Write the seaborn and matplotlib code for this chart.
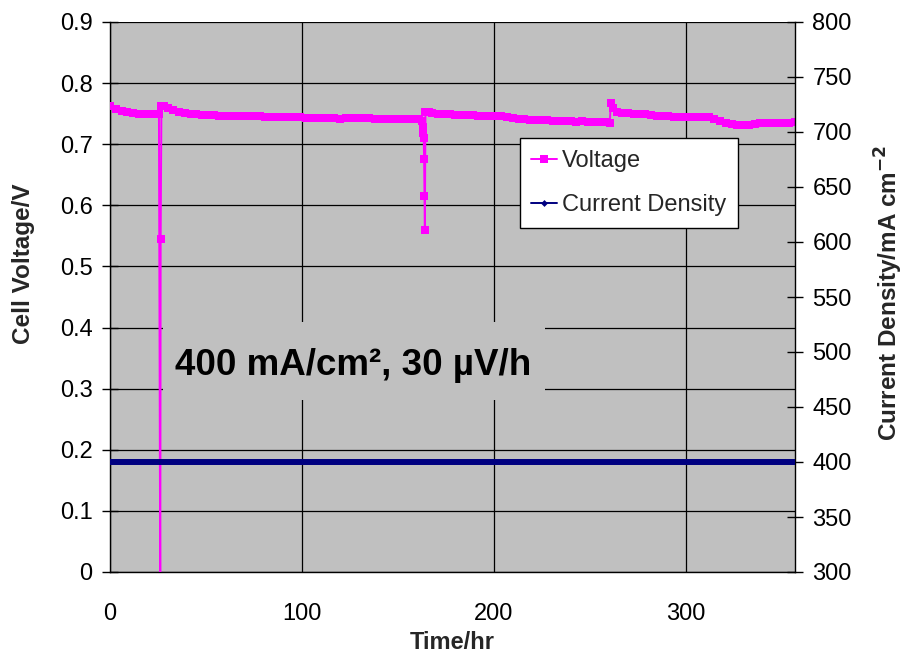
import matplotlib
matplotlib.use("Agg")
import matplotlib.pyplot as plt
from matplotlib.lines import Line2D
from matplotlib.patches import Rectangle
from matplotlib import font_manager
import seaborn as sns
import pandas as pd

# ---------------- data ----------------
time_hr = [0, 3, 6, 9, 12, 15, 18, 21, 24, 25.5,
           26.2, 26.4, 26.8, 28, 30, 33, 36, 39, 42, 45, 48, 51, 54, 57, 60,
           63, 66, 69, 72, 75, 78, 81, 84, 87, 90, 93, 96, 99, 102, 105,
           108, 111, 114, 117, 120, 123, 126, 129, 132, 135, 138, 141, 144,
           147, 150, 153, 156, 159, 161, 162.5, 163, 163.3, 163.5, 163.7,
           163.9, 164.1, 164.4, 166, 168, 171, 174, 177, 180, 183, 186, 189,
           192, 195, 198, 201, 204, 207, 210, 213, 216, 219, 222, 225, 228,
           231, 234, 237, 240, 243, 246, 249, 252, 255, 258, 260.5, 261,
           262, 264, 267, 270, 273, 276, 279, 282, 285, 288, 291, 294, 297,
           300, 303, 306, 309, 312, 315, 318, 321, 324, 327, 330, 333, 336,
           339, 342, 345, 348, 351, 354, 357]
voltage = [0.763, 0.758, 0.755, 0.753, 0.751, 0.750, 0.749, 0.749, 0.750, 0.750,
           -0.05, 0.545, 0.762, 0.763, 0.760, 0.756, 0.753, 0.751, 0.750, 0.749,
           0.748, 0.748, 0.748, 0.747, 0.747,
           0.746, 0.746, 0.746, 0.746, 0.746, 0.746, 0.745, 0.745, 0.745, 0.744,
           0.744, 0.744, 0.744, 0.743, 0.743,
           0.743, 0.743, 0.743, 0.743, 0.742, 0.743, 0.743, 0.743, 0.743, 0.743,
           0.742, 0.742, 0.742,
           0.741, 0.741, 0.741, 0.742, 0.742, 0.741, 0.738, 0.728, 0.718, 0.711,
           0.676,
           0.615, 0.560, 0.752, 0.753, 0.751, 0.749, 0.750, 0.749, 0.748, 0.748,
           0.748, 0.748,
           0.747, 0.747, 0.747, 0.747, 0.746, 0.745, 0.743, 0.742, 0.742, 0.740,
           0.739, 0.739, 0.739,
           0.738, 0.738, 0.738, 0.738, 0.737, 0.738, 0.737, 0.737, 0.737, 0.736,
           0.735, 0.768,
           0.760, 0.752, 0.751, 0.751, 0.750, 0.749, 0.749, 0.748, 0.747, 0.746,
           0.746, 0.745, 0.745,
           0.744, 0.744, 0.745, 0.745, 0.744, 0.741, 0.738, 0.735, 0.733, 0.732,
           0.732, 0.732, 0.733,
           0.734, 0.734, 0.734, 0.734, 0.734, 0.735, 0.736]

current_time_hr = [0, 50, 100, 150, 200, 250, 300, 357]
current_density = [400, 400, 400, 400, 400, 400, 400, 400]

x_ticks = [0, 100, 200, 300]
left_ticks = [0, 0.1, 0.2, 0.3, 0.4, 0.5, 0.6, 0.7, 0.8, 0.9]
right_ticks = [300, 350, 400, 450, 500, 550, 600, 650, 700, 750, 800]

annotation = "400 mA/cm\u00b2, 30 \u00b5V/h"

# ---------------- style ----------------
sns.set_style("white")
names = {f.name for f in font_manager.fontManager.ttflist}
narrow = "Liberation Sans Narrow" if "Liberation Sans Narrow" in names else "Liberation Sans"
plt.rcParams["font.family"] = ["Liberation Sans", "DejaVu Sans"]

MAGENTA = "#FF00FF"
NAVY = "#000080"
GRAY = "#C0C0C0"

fig = plt.figure(figsize=(9.06, 6.55), dpi=100)
ax = fig.add_axes([110 / 906, 83 / 655, 685 / 906, 550 / 655])
ax.set_facecolor(GRAY)

df_v = pd.DataFrame({"t": time_hr, "v": voltage})
sns.lineplot(data=df_v, x="t", y="v", ax=ax, sort=False, estimator=None,
             color=MAGENTA, lw=1.4, marker="s", markersize=5.3,
             markeredgewidth=0, zorder=3)

ax.set_xlim(0, 357)
ax.set_ylim(0, 0.9)
ax.set_xticks(x_ticks)
ax.set_yticks(left_ticks)
ax.set_yticklabels(["0" if v == 0 else f"{v:.1f}" for v in left_ticks])
ax.set_axisbelow(True)
ax.grid(True, color="black", lw=0.9)

# background box behind annotation
ax.add_patch(Rectangle((27.6, 0.2815), 199.0, 0.1275, facecolor=GRAY,
                       edgecolor="none", zorder=1))
ax.text(126.6, 0.3224, annotation, ha="center", va="baseline",
        fontsize=26.5, fontweight="bold", color="black", zorder=4)

for s in ["top", "right"]:
    ax.spines[s].set_visible(False)
for s in ["left", "bottom"]:
    ax.spines[s].set_color("black")
    ax.spines[s].set_linewidth(1.0)

ax.tick_params(axis="y", direction="inout", length=11, width=1, pad=7,
               labelsize=17, colors="black")
ax.tick_params(axis="x", direction="inout", length=11, width=1, pad=17,
               labelsize=17, colors="black")
for lab in ax.get_xticklabels() + ax.get_yticklabels():
    lab.set_family(narrow)

ax.set_xlabel("Time/hr", fontsize=17, fontweight="bold")
ax.xaxis.set_label_coords(0.5, -0.108)
ax.set_ylabel("Cell Voltage/V", fontsize=17.5, fontweight="bold")
ax.yaxis.set_label_coords(-0.109, 0.56)

ax2 = ax.twinx()
df_c = pd.DataFrame({"t": current_time_hr, "c": current_density})
sns.lineplot(data=df_c, x="t", y="c", ax=ax2, sort=False, estimator=None,
             color=NAVY, lw=4.3, zorder=3)
ax2.set_ylim(300, 800)
ax2.set_yticks(right_ticks)
ax2.set_xlim(0, 357)
for s in ["top", "left", "bottom"]:
    ax2.spines[s].set_visible(False)
ax2.spines["right"].set_color("black")
ax2.spines["right"].set_linewidth(1.0)
ax2.tick_params(axis="y", direction="inout", length=11, width=1, pad=7,
                labelsize=17, colors="black")
for lab in ax2.get_yticklabels():
    lab.set_family(narrow)
ax2.set_ylabel("Current Density/mA cm$^{\\mathbf{-2}}$", fontsize=17.5,
               fontweight="bold")
ax2.yaxis.set_label_coords(1.1135, 0.507)

handles = [
    Line2D([], [], color=MAGENTA, lw=1.4, marker="s", markersize=6,
           markeredgewidth=0),
    Line2D([], [], color=NAVY, lw=1.4, marker="D", markersize=3.5,
           markeredgewidth=0),
]
leg = ax2.legend(handles, ["Voltage", "Current Density"], loc="upper left",
                 bbox_to_anchor=(0.598, 0.789), borderaxespad=0,
                 frameon=True, fancybox=False,
                 framealpha=1, edgecolor="black", handlelength=1.1,
                 handletextpad=0.2, labelspacing=0.95, borderpad=0.5,
                 prop={"family": narrow, "size": 17})
leg.get_frame().set_linewidth(1.0)

fig.savefig("out.png", dpi=100, facecolor="white")
